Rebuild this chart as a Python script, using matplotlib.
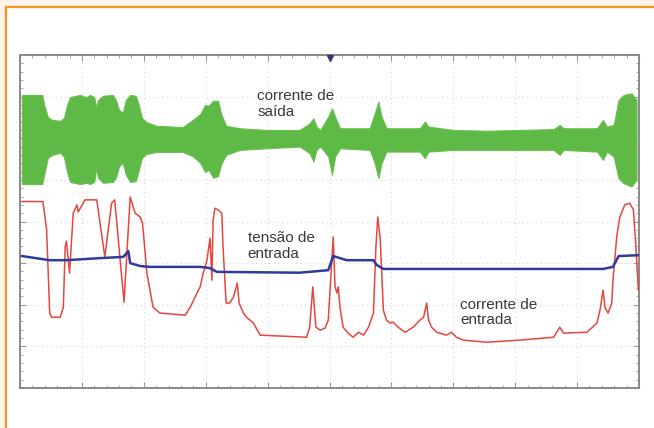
import numpy as np
import matplotlib
matplotlib.use('Agg')
import matplotlib.pyplot as plt
from matplotlib.patches import Rectangle

plt.rcParams['font.family'] = ['Liberation Sans', 'DejaVu Sans']

# scope trace, x in divisions (0..10), y in divisions (-4..4)
# corrente de entrada (red)
red_t = [0.03, 0.37, 0.43, 0.48, 0.51, 0.65, 0.70, 0.73, 0.75, 0.80,
         0.86, 0.92, 0.94, 1.05, 1.24, 1.37, 1.48, 1.53, 1.68, 1.78,
         1.86, 1.94, 1.98, 2.05, 2.10, 2.15, 2.26, 2.67, 2.75, 2.83,
         2.91, 2.96, 3.02, 3.07, 3.10, 3.12, 3.15, 3.20, 3.26, 3.28,
         3.33, 3.39, 3.45, 3.51, 3.54, 3.61, 3.66, 3.77, 3.88, 4.63,
         4.68, 4.73, 4.78, 4.85, 4.93, 4.98, 5.06, 5.09, 5.12, 5.14,
         5.17, 5.22, 5.30, 5.38, 5.47, 5.55, 5.63, 5.71, 5.75, 5.78,
         5.82, 5.87, 5.92, 5.98, 6.03, 6.11, 6.22, 6.35, 6.46, 6.52,
         6.57, 6.60, 6.65, 6.73, 6.89, 6.97, 7.05, 7.16, 7.54, 8.08,
         8.62, 8.72, 8.78, 9.16, 9.32, 9.37, 9.42, 9.45, 9.50, 9.56,
         9.58, 9.64, 9.69, 9.77, 9.85, 9.91, 9.95, 9.99]
red_i = [0.48, 0.48, -0.20, -2.20, -2.30, -2.30, -2.06, -0.61, -0.47, -1.24,
         0.20, 0.40, 0.23, 0.52, 0.52, -0.85, 0.44, 0.52, -1.94, 0.59,
         0.20, 0.11, -0.04, -1.24, -1.65, -2.06, -2.20, -2.25, -2.06, -1.81,
         -1.57, -1.24, -0.93, -0.40, -1.41, 0.04, 0.32, 0.28, 0.20, -0.61,
         -1.96, -1.96, -1.81, -1.48, -1.96, -2.20, -2.30, -2.44, -2.73, -2.78,
         -2.54, -1.57, -2.54, -2.61, -2.56, -2.37, -0.37, -1.57, -1.72, -1.57,
         -2.06, -2.54, -2.68, -2.78, -2.66, -2.73, -2.54, -2.20, -0.61, 0.11,
         -0.44, -2.13, -2.37, -2.44, -2.42, -2.54, -2.66, -2.54, -2.37, -2.30,
         -1.96, -2.37, -2.54, -2.66, -2.73, -2.66, -2.78, -2.85, -2.90, -2.85,
         -2.78, -2.54, -2.68, -2.66, -2.44, -2.13, -1.65, -2.06, -2.20, -1.96,
         -1.41, -0.37, 0.11, 0.40, 0.44, 0.28, -0.61, -1.65]

# tensao de entrada (blue)
blue_t = [0.03, 0.48, 0.75, 1.29, 1.67, 1.75, 1.78, 1.94, 2.10, 2.91,
          3.07, 3.18, 4.52, 4.98, 5.06, 5.17, 5.28, 5.71, 5.76, 5.87,
          9.42, 9.58, 9.67, 9.99]
blue_v = [-0.83, -0.93, -0.93, -0.88, -0.85, -0.71, -1.00, -1.07, -1.09, -1.09,
          -1.12, -1.21, -1.23, -1.17, -0.83, -0.88, -0.93, -0.93, -1.04, -1.14,
          -1.14, -1.09, -0.83, -0.81]

# corrente de saida (green) - envelope of the fast signal
green_t = [0.03, 0.36, 0.39, 0.45, 0.52, 0.65, 0.71, 0.76, 0.81, 0.97,
           1.07, 1.13, 1.20, 1.23, 1.26, 1.34, 1.50, 1.55, 1.60, 1.66,
           1.71, 1.78, 1.87, 1.92, 1.97, 2.04, 2.20, 2.63, 2.79, 2.91,
           2.99, 3.05, 3.12, 3.20, 3.25, 3.33, 3.55, 3.99, 4.52, 4.68,
           4.74, 4.79, 4.85, 4.98, 5.04, 5.09, 5.17, 5.65, 5.73, 5.79,
           5.84, 5.92, 6.46, 6.54, 6.60, 7.00, 7.54, 8.62, 8.72, 8.78,
           9.32, 9.42, 9.48, 9.59, 9.67, 9.75, 9.88, 9.96]
green_up = [3.04, 3.04, 2.80, 2.51, 2.44, 2.42, 2.49, 2.80, 2.99, 3.04,
            2.99, 3.04, 2.99, 2.73, 2.92, 3.02, 3.04, 2.92, 2.68, 2.61,
            2.92, 3.04, 3.02, 2.80, 2.49, 2.39, 2.30, 2.27, 2.44, 2.58,
            2.80, 2.78, 2.90, 2.90, 2.58, 2.30, 2.24, 2.20, 2.20, 2.36,
            2.48, 2.28, 2.20, 2.52, 2.72, 2.52, 2.24, 2.24, 2.60, 2.88,
            2.52, 2.24, 2.24, 2.40, 2.28, 2.20, 2.18, 2.22, 2.32, 2.24,
            2.24, 2.44, 2.28, 2.32, 2.92, 3.04, 3.08, 2.92]
green_lo = [0.90, 0.90, 1.12, 1.53, 1.60, 1.65, 1.55, 1.19, 0.95, 0.90,
            0.93, 0.90, 0.95, 1.29, 1.05, 0.93, 0.95, 1.05, 1.33, 1.41,
            1.12, 0.95, 0.97, 1.24, 1.53, 1.62, 1.67, 1.67, 1.57, 1.41,
            1.19, 1.24, 1.05, 1.09, 1.38, 1.60, 1.72, 1.76, 1.80, 1.64,
            1.44, 1.72, 1.80, 1.56, 1.12, 1.56, 1.76, 1.72, 1.40, 1.04,
            1.40, 1.68, 1.68, 1.52, 1.68, 1.72, 1.72, 1.72, 1.60, 1.72,
            1.68, 1.48, 1.68, 1.56, 1.04, 0.92, 0.84, 1.00]

labels = ["corrente de\nsaída", "tensão de\nentrada", "corrente de\nentrada"]
label_pos = [(3.83, 3.18), (3.68, -0.24), (7.11, -1.83)]

fig = plt.figure(figsize=(6.54, 4.28), dpi=100, facecolor='#fdf3e6')
# orange frame around the figure
frame = Rectangle((6 / 654, -0.1), 1.2, 1.1 - 7 / 428,
                  transform=fig.transFigure, facecolor='white',
                  edgecolor='#f7941e', linewidth=1.6, zorder=-10)
fig.add_artist(frame)

ax = fig.add_axes([20 / 654, 40 / 428, 619 / 654, 333 / 428])
ax.set_zorder(5)
ax.set_xlim(0, 10)
ax.set_ylim(-4, 4)
ax.set_facecolor('white')

# graticule
for gx in range(1, 10):
    ax.axvline(gx, color='#d4d4d4', lw=0.8, ls=(0, (1, 3)), zorder=1)
for gy in range(-3, 4):
    ax.axhline(gy, color='#d4d4d4', lw=0.8, ls=(0, (1, 3)), zorder=1)

ax.fill_between(green_t, green_lo, green_up, color='#5eb946', lw=0.8,
                edgecolor='#6cc052', zorder=2)

ax.plot(red_t, red_i, color='#e5473f', lw=1.1, zorder=3)
ax.plot(blue_t, blue_v, color='#2e3b9c', lw=1.8, zorder=4)

for txt, (tx, ty) in zip(labels, label_pos):
    ax.text(tx, ty, txt, fontsize=11, color='#3a3a3a', va='top', ha='left',
            linespacing=1.15, zorder=5)

# trigger marker
ax.plot([5], [3.93], marker='v', color='#2e3b6c', markersize=5, zorder=6,
        clip_on=False)

for sp in ax.spines.values():
    sp.set_color('#8a8a8a')
    sp.set_linewidth(1.4)
    sp.set_linestyle((0, (3, 1)))
ax.set_xticks(np.arange(0, 11, 1))
ax.set_yticks(np.arange(-4, 5, 1))
ax.set_xticks(np.arange(0, 10.01, 0.2), minor=True)
ax.set_yticks(np.arange(-4, 4.01, 0.2), minor=True)
ax.tick_params(which='both', direction='in', top=True, right=True,
               labelbottom=False, labelleft=False, color='#9a9a9a')
ax.tick_params(which='major', length=4, width=0.8)
ax.tick_params(which='minor', length=2, width=0.6)

fig.savefig('out.png', dpi=100, facecolor=fig.get_facecolor())
